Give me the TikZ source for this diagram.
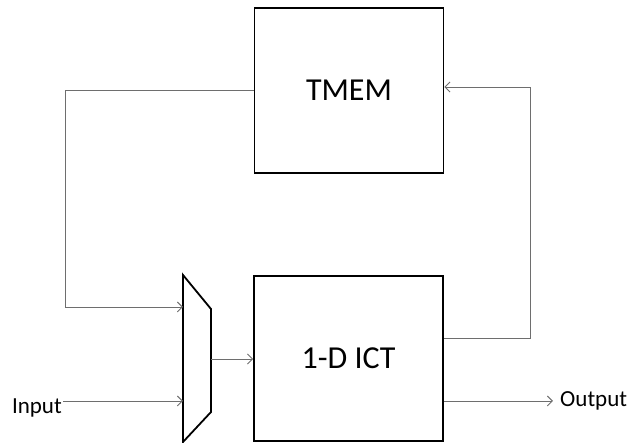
\documentclass[tikz,border=0pt]{standalone}
\usepackage{fontspec}
\setmainfont{Carlito}
\definecolor{wire1}{RGB}{110, 110, 110}
\usetikzlibrary{arrows.meta, positioning, calc}
\tikzset{
  blockbox/.style={draw=black, line width=1.8pt, minimum width=189pt, minimum height=165pt, font=\fontsize{32}{36}\selectfont},
  wire/.style={draw=wire1, line width=0.9pt},
  wirearrow/.style={wire, -{Straight Barb[length=5pt, width=10pt]}},
  portlabel/.style={font=\fontsize{23}{27}\selectfont, inner sep=1pt}
}

\begin{document}
\begin{tikzpicture}[x=1pt, y=-1pt]
  \useasboundingbox (0,0) rectangle (633,443);

  % blocks
  \node[blockbox] (tmem) at (349,90.5) {TMEM};
  \node[blockbox] (ict) at (348.5,358.5) {1-D ICT};

  % multiplexer
  \coordinate (muxtl) at (183,275);
  \coordinate (muxtr) at (211,309);
  \coordinate (muxbr) at (211,412);
  \coordinate (muxbl) at (183,442);
  \draw[line width=1.8pt, line join=miter] (muxtl) -- (muxtr) -- (muxbr) -- (muxbl) -- cycle;
  \coordinate (muxa) at (183,307);
  \coordinate (muxb) at (183,401);
  \coordinate (muxout) at (211,359);

  % ports
  \node[portlabel, anchor=east] (input) at (63,408) {Input};
  \node[portlabel, anchor=west] (output) at (559,401) {Output};

  % connectors
  \draw[wirearrow] (tmem.west) -| (65,307) -- (muxa);
  \draw[wirearrow] (input.east |- muxb) -- (muxb);
  \draw[wirearrow] (muxout) -- (muxout -| ict.west);
  \draw[wirearrow] (ict.east |- 0,338) -| (530,87) -- (tmem.east |- 0,87);
  \draw[wirearrow] (ict.east |- 0,401) -- (553,401);
\end{tikzpicture}
\end{document}
